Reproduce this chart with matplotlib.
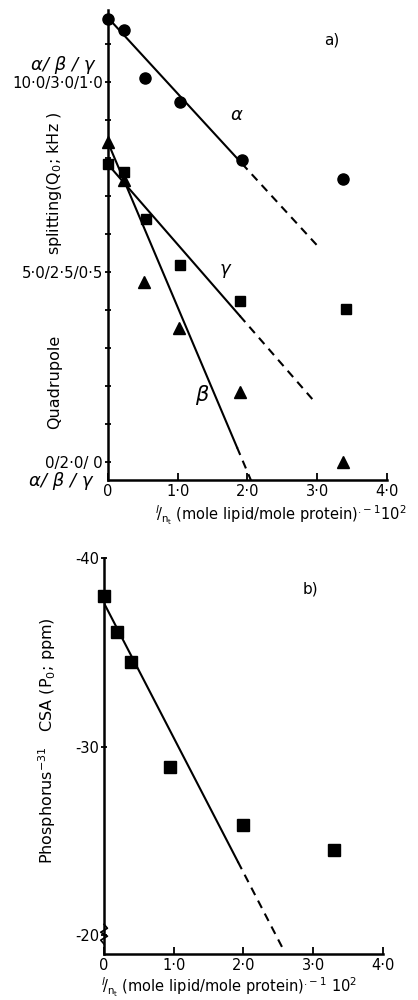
import matplotlib.pyplot as plt
import numpy as np

# panel a data (x = 1/n_t * 10^2, y in alpha kHz scale; beta = 2 + y/10, gamma = y/10)
xa_alpha = [0.0, 0.23, 0.53, 1.03, 1.92, 3.37]
ya_alpha = [11.66, 11.37, 10.1, 9.47, 7.95, 7.45]
xa_gamma = [0.0, 0.23, 0.54, 1.03, 1.89, 3.41]
ya_gamma = [7.84, 7.63, 6.39, 5.18, 4.24, 4.03]
xa_beta = [0.0, 0.23, 0.52, 1.02, 1.9, 3.37]
ya_beta = [8.42, 7.42, 4.74, 3.53, 1.84, 0.0]

# fitted lines: intercept, slope, end of solid part, end of dashed part
fit_alpha = (11.7, -2.0, 1.92, 3.0)
fit_gamma = (7.84, -2.11, 1.89, 2.95)
fit_beta = (8.42, -4.34, 1.85, 2.05)

# panel b data
xb = [0.0, 0.19, 0.39, 0.94, 2.0, 3.3]
yb = [-37.98, -36.1, -34.5, -28.9, -25.85, -24.5]
fit_b = (-37.6, 7.14, 1.92, 2.59)

xticks = [0, 1, 2, 3, 4]
xticklabels = ['0', '1·0', '2·0', '3·0', '4·0']
ya_ticks = [0, 5, 10]
ya_ticklabels = ['0/2·0/ 0', '5·0/2·5/0·5', '10·0/3·0/1·0']
yb_ticks = [-40, -30, -20]
yb_ticklabels = ['-40', '-30', '-20']

fig = plt.figure(figsize=(4.18, 10), dpi=100)
ax1 = fig.add_axes([0.258, 0.52, 0.668, 0.47])
ax2 = fig.add_axes([0.249, 0.046, 0.667, 0.396])


def fit_line(ax, fit):
    b, m, xs, xd = fit
    x1 = np.array([0, xs])
    x2 = np.array([xs, xd])
    ax.plot(x1, b + m * x1, color='black', lw=1.5)
    ax.plot(x2, b + m * x2, color='black', lw=1.5, ls=(0, (4, 3)))


def style(ax):
    for s in ['top', 'right']:
        ax.spines[s].set_visible(False)
    for s in ['left', 'bottom']:
        ax.spines[s].set_linewidth(1.8)
    ax.set_xlim(0, 4.0)
    ax.set_xticks(xticks)
    ax.set_xticklabels(xticklabels, fontsize=10.5)
    ax.tick_params(axis='x', direction='in', length=5, width=1.3, pad=3)
    ax.tick_params(axis='y', direction='inout', length=5, width=1.3)


# ---- panel a
style(ax1)
ax1.set_ylim(-0.47, 11.9)
ax1.set_yticks(ya_ticks)
ax1.set_yticklabels(ya_ticklabels, fontsize=10.8)
ax1.set_yticks(np.arange(0, 12, 1), minor=True)
ax1.tick_params(axis='y', which='minor', direction='inout', length=5, width=1.3)
ax1.tick_params(axis='y', pad=1)

fit_line(ax1, fit_alpha)
fit_line(ax1, fit_gamma)
fit_line(ax1, fit_beta)
ax1.plot(xa_alpha, ya_alpha, 'o', color='black', ms=8, clip_on=False)
ax1.plot(xa_gamma, ya_gamma, 's', color='black', ms=7.5, clip_on=False)
ax1.plot(xa_beta, ya_beta, '^', color='black', ms=9, clip_on=False)

ax1.text(1.75, 9.0, 'α', fontsize=13, style='italic')
ax1.text(1.6, 4.95, 'γ', fontsize=13, style='italic')
ax1.text(1.25, 1.6, 'β', fontsize=15, style='italic')
ax1.text(3.1, 11.0, 'a)', fontsize=11)

ax1.text(-0.65, 10.45, 'α/ β / γ', fontsize=13, style='italic', ha='center', va='center')
ax1.text(-0.68, -0.5, 'α/ β / γ', fontsize=13, style='italic', ha='center', va='center')
ax1.text(-0.76, 7.35, r'splitting(Q$_0$; kHz )', rotation=90, fontsize=11.5,
         ha='center', va='center')
ax1.text(-0.76, 2.1, 'Quadrupole', rotation=90, fontsize=11.5,
         ha='center', va='center')
ax1.set_xlabel(r'$^{l}\!/_{\mathregular{n_t}}$ (mole lipid/mole protein)$^{.\!-1}$10$^{2}$',
               fontsize=10.5, labelpad=3, x=0.62)

# ---- panel b
style(ax2)
ax2.set_ylim(-19, -40)
ax2.set_yticks(yb_ticks)
ax2.set_yticklabels(yb_ticklabels, fontsize=10.5)
ax2.tick_params(axis='y', pad=1)

fit_line(ax2, fit_b)
ax2.plot(xb, yb, 's', color='black', ms=9, clip_on=False)
ax2.text(2.85, -38.1, 'b)', fontsize=11)
ax2.set_ylabel(r'Phosphorus$^{-31}$   CSA (P$_0$; ppm)', fontsize=11.5)
ax2.yaxis.set_label_coords(-0.165, 0.54)
ax2.set_xlabel(r'$^{l}\!/_{\mathregular{n_t}}$ (mole lipid/mole protein)$^{.\!-1}$ 10$^{2}$',
               fontsize=10.5, labelpad=2, x=0.45)

# axis break mark
zx = [0.0, 0.012, -0.012, 0.012, -0.012, 0.0]
zy = [0.075, 0.065, 0.055, 0.045, 0.035, 0.025]
ax2.plot(zx, zy, color='black', lw=1.2, transform=ax2.transAxes, clip_on=False)

fig.savefig('out.png', dpi=100)
